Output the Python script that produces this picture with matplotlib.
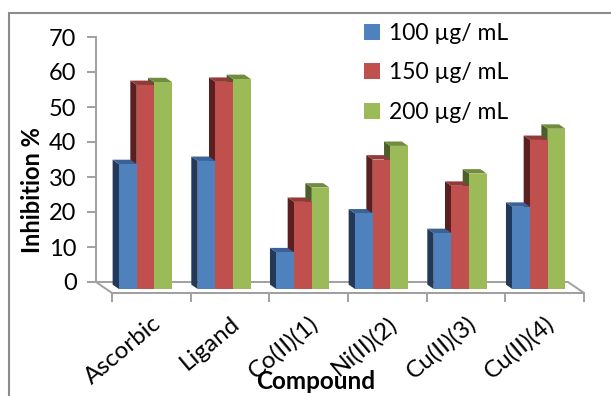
import matplotlib.pyplot as plt
from matplotlib.patches import Polygon, Patch, Rectangle

plt.rcParams["font.family"] = ["Lato", "DejaVu Sans"]

# data
compounds = ["Ascorbic", "Ligand", "Co(II)(1)", "Ni(II)(2)", "Cu(II)(3)", "Cu(II)(4)"]
series_names = ["100 µg/ mL", "150 µg/ mL", "200 µg/ mL"]
inhib_100 = [35.7, 36.6, 10.5, 21.6, 16.0, 23.5]
inhib_150 = [58.3, 59.2, 24.9, 37.0, 29.5, 42.6]
inhib_200 = [59.1, 60.0, 29.0, 40.9, 33.0, 45.8]
y_ticks = [0, 10, 20, 30, 40, 50, 60, 70]

front_colors = ["#4F81BD", "#C0504D", "#9BBB59"]
side_colors = ["#22395A", "#5A1F1E", "#4C5F2A"]
top_colors = ["#3A6295", "#913A38", "#718C3F"]
axis_gray = "#A0A0A0"

W, H = 611, 396
fig = plt.figure(figsize=(W / 100, H / 100), dpi=100)

# pixel scales of the fake 3D box
px_x = 78.67   # px per category
px_y = 3.5     # px per % unit
DX = 16 / px_x  # floor depth in data units
DY = 11 / px_y
d_front, d_back = 0.64, 0.24
bar_w = 0.225

left_px, top_px = 96, 37
right_px = left_px + (6 + DX) * px_x
bottom_px = 282 + 11
ax = fig.add_axes([left_px / W, 1 - bottom_px / H,
                   (right_px - left_px) / W, (bottom_px - top_px) / H])
ax.set_xlim(0, 6 + DX)
ax.set_ylim(-DY, 70)


def proj(x, v, d):
    return (x + d * DX, v - d * DY)


values = [inhib_100, inhib_150, inhib_200]
for i in range(len(compounds)):
    start = i + 0.5 - 1.5 * bar_w
    for j in reversed(range(3)):
        v = values[j][i]
        xl = start + j * bar_w
        z = 10 + (2 - j)
        side = [proj(xl, 0, d_front), proj(xl, v, d_front),
                proj(xl, v, d_back), proj(xl, 0, d_back)]
        top = [proj(xl, v, d_front), proj(xl + bar_w, v, d_front),
               proj(xl + bar_w, v, d_back), proj(xl, v, d_back)]
        ax.add_patch(Polygon(side, closed=True, facecolor=side_colors[j],
                             edgecolor="none", zorder=z))
        ax.add_patch(Polygon(top, closed=True, facecolor=top_colors[j],
                             edgecolor="none", zorder=z))
        ax.bar(xl + d_front * DX, v, bottom=-d_front * DY, width=bar_w,
               align="edge", color=front_colors[j], zorder=z)

# floor outline
floor = [proj(0, 0, 0), proj(6, 0, 0), proj(6, 0, 1), proj(0, 0, 1), proj(0, 0, 0)]
ax.plot([p[0] for p in floor], [p[1] for p in floor], color=axis_gray,
        lw=1.4, clip_on=False, zorder=2)

# axes styling
for s in ["top", "right"]:
    ax.spines[s].set_visible(False)
ax.spines["left"].set_bounds(0, 70)
ax.spines["bottom"].set_bounds(DX, 6 + DX)
for s in ["left", "bottom"]:
    ax.spines[s].set_color(axis_gray)
    ax.spines[s].set_linewidth(1.4)

ax.set_yticks(y_ticks)
ax.tick_params(axis="y", length=6.5, width=1.4, color=axis_gray,
               labelsize=17, pad=7.5)
ax.set_xticks([k + DX for k in range(7)])
ax.set_xticklabels([])
ax.set_xticks([k + 0.5 + DX for k in range(6)], minor=True)
ax.set_xticklabels(compounds, minor=True, rotation=40, ha="right",
                   rotation_mode="anchor", fontsize=17.5)
ax.tick_params(axis="x", which="major", length=6.5, width=1.4, color=axis_gray)
ax.tick_params(axis="x", which="minor", length=0, pad=14)

fig.text(33 / W, 1 - 190 / H, "Inhibition %", rotation=90, ha="center",
         va="center", fontsize=17, fontweight="bold")
fig.text(316 / W, 7 / H, "Compound", ha="center", va="baseline",
         fontsize=17.5, fontweight="bold")

handles = [Patch(facecolor=c, edgecolor="none") for c in front_colors]
ax.legend(handles, series_names, loc="upper left",
          bbox_to_anchor=(364 / W, 1 - 23 / H), bbox_transform=fig.transFigure,
          frameon=False, fontsize=16.5, handlelength=0.7, handleheight=0.7,
          handletextpad=0.4, labelspacing=0.8, borderpad=0, borderaxespad=0)

# outer chart frame (cut off at right and bottom)
fig.patches.append(Rectangle((9 / W, -0.2), 2, 1 - 13 / H + 0.2,
                             transform=fig.transFigure, fill=False,
                             edgecolor="#8C8C8C", lw=1.5))

fig.savefig("out.png", dpi=100)
